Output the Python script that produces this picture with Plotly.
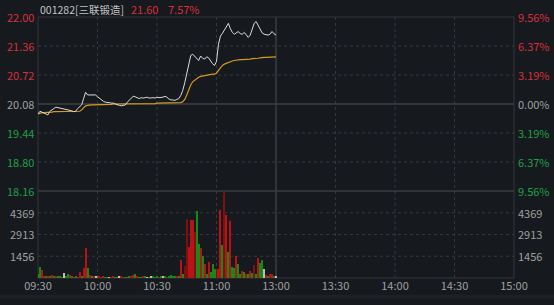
import plotly.graph_objects as go

# ---------------- data ----------------
title_code = "001282[三联锻造]"
last_price = "21.60"
last_pct = "7.57%"
prev_close = 20.08

price_ticks = [22.00, 21.36, 20.72, 20.08, 19.44, 18.80, 18.16]
pct_ticks = ["9.56%", "6.37%", "3.19%", "0.00%", "3.19%", "6.37%", "9.56%"]
vol_ticks = [1456, 2913, 4369]
vol_max = 5825
time_vals = [0, 30, 60, 90, 120, 150, 180, 210, 240]
time_labels = ["09:30", "10:00", "10:30", "11:00", "13:00", "13:30", "14:00", "14:30", "15:00"]

price = [
    19.86, 19.92, 19.90, 19.88, 19.86, 19.84, 19.92, 19.96, 19.98, 20.01,
    20.00, 19.99, 19.98, 19.98, 19.96, 19.95, 19.95, 19.93, 19.91, 19.92,
    19.98, 20.02, 20.06, 20.20, 20.34, 20.28, 20.28, 20.29, 20.28, 20.28,
    20.24, 20.20, 20.17, 20.14, 20.12, 20.12, 20.11, 20.10, 20.10, 20.08,
    20.06, 20.05, 20.04, 20.05, 20.06, 20.12, 20.17, 20.21, 20.25, 20.24,
    20.21, 20.20, 20.22, 20.21, 20.22, 20.23, 20.21, 20.22, 20.22, 20.21,
    20.23, 20.22, 20.22, 20.23, 20.25, 20.23, 20.19, 20.17, 20.17, 20.16,
    20.18, 20.20, 20.27, 20.38, 20.55, 20.75, 20.98, 21.15, 21.18, 21.14,
    21.08, 21.04, 21.14, 21.09, 21.07, 21.12, 21.10, 21.02, 20.97, 20.93,
    21.02, 21.40, 21.58, 21.64, 21.72, 21.80, 21.86, 21.74, 21.66, 21.62,
    21.66, 21.68, 21.63, 21.62, 21.66, 21.60, 21.55, 21.60, 21.74, 21.86,
    21.90, 21.82, 21.74, 21.65, 21.62, 21.61, 21.60, 21.62, 21.68, 21.63,
    21.60,
]

avg_price = [
    19.86, 19.88, 19.89, 19.89, 19.89, 19.89, 19.90, 19.90, 19.91, 19.91,
    19.91, 19.91, 19.91, 19.91, 19.91, 19.91, 19.91, 19.91, 19.91, 19.92,
    19.92, 19.92, 19.95, 20.00, 20.04, 20.05, 20.06, 20.06, 20.06, 20.06,
    20.07, 20.07, 20.07, 20.07, 20.07, 20.07, 20.07, 20.07, 20.08, 20.08,
    20.08, 20.08, 20.08, 20.08, 20.08, 20.08, 20.08, 20.09, 20.09, 20.09,
    20.09, 20.09, 20.09, 20.09, 20.09, 20.09, 20.09, 20.09, 20.09, 20.09,
    20.10, 20.10, 20.10, 20.10, 20.10, 20.10, 20.10, 20.10, 20.10, 20.10,
    20.11, 20.11, 20.11, 20.13, 20.18, 20.28, 20.40, 20.50, 20.57, 20.61,
    20.65, 20.67, 20.69, 20.70, 20.71, 20.72, 20.73, 20.73, 20.74, 20.74,
    20.76, 20.82, 20.88, 20.93, 20.96, 20.98, 21.00, 21.02, 21.03, 21.04,
    21.05, 21.05, 21.06, 21.06, 21.06, 21.07, 21.07, 21.07, 21.08, 21.08,
    21.09, 21.09, 21.10, 21.11, 21.11, 21.11, 21.11, 21.12, 21.12, 21.12,
    21.12,
]

volume = [
    300, 740, 520, 150, 80, 150, 150, 200, 150, 80,
    150, 80, 60, 305, 150, 240, 200, 80, 60, 80,
    60, 430, 80, 660, 2010, 660, 200, 150, 80, 80,
    150, 80, 60, 80, 60, 60, 60, 60, 80, 60,
    60, 150, 80, 60, 40, 60, 80, 150, 200, 240,
    80, 60, 60, 80, 80, 60, 60, 80, 100, 60,
    80, 60, 100, 150, 80, 60, 150, 200, 150, 100,
    150, 100, 1180, 262, 800, 3980, 2050, 3915, 3915, 3060,
    4460, 2275, 2010, 1465, 963, 300, 1095, 400, 920, 600,
    590, 600, 4570, 2230, 5790, 4245, 1750, 3800, 720, 650,
    1465, 920, 300, 500, 400, 300, 260, 480, 340, 875,
    300, 1350, 1000, 1222, 590, 200, 150, 300, 300, 150,
    150,
]

# r = up (red), R = up (dark red), g = down (green), w = unchanged
vol_dir = [
    "g", "g", "r", "r", "g", "r", "g", "r", "g", "r",
    "g", "g", "g", "w", "g", "g", "r", "g", "r", "g",
    "r", "r", "g", "r", "r", "g", "r", "g", "r", "w",
    "g", "r", "r", "r", "g", "g", "w", "r", "r", "g",
    "g", "w", "r", "r", "g", "g", "g", "r", "r", "g",
    "r", "g", "g", "r", "g", "w", "g", "w", "g", "g",
    "g", "r", "g", "w", "g", "r", "g", "g", "g", "g",
    "r", "g", "r", "g", "R", "R", "r", "r", "r", "R",
    "g", "g", "r", "g", "r", "g", "r", "g", "g", "g",
    "R", "r", "r", "g", "R", "r", "g", "r", "g", "g",
    "r", "g", "g", "r", "g", "r", "g", "r", "g", "R",
    "g", "r", "g", "g", "w", "r", "g", "r", "r", "g",
    "w",
]

# ---------------- style ----------------
BG = "#16191e"
GRID = "#34383e"
SOLID = "#34373c"
TXT = "#a0a0a0"
RED = "#d8303a"
GREEN = "#1fa048"
dir_colors = {"r": "#b81418", "R": "#7e100f", "g": "#168a19", "w": "#bdbdbd"}
FONT = "Noto Sans CJK SC"

minutes = list(range(len(price)))

fig = go.Figure()
fig.add_trace(go.Scatter(x=minutes, y=avg_price, mode="lines",
                         line=dict(color="#d39c1f", width=1.2),
                         xaxis="x", yaxis="y", hoverinfo="skip"))
fig.add_trace(go.Scatter(x=minutes, y=price, mode="lines",
                         line=dict(color="#dcdcdc", width=1),
                         xaxis="x", yaxis="y", hoverinfo="skip"))
fig.add_trace(go.Bar(x=minutes, y=volume, width=0.5,
                     marker=dict(color=[dir_colors[d] for d in vol_dir], line=dict(width=0)),
                     xaxis="x", yaxis="y2", hoverinfo="skip"))

split = 89 / 267
shapes = []
# horizontal dotted price grid
for p in price_ticks[1:-1]:
    if p == prev_close:
        continue
    shapes.append(dict(type="line", xref="paper", yref="y", x0=0, x1=1, y0=p, y1=p,
                       line=dict(color=GRID, width=1, dash="dot"), layer="below"))
for v in vol_ticks:
    shapes.append(dict(type="line", xref="paper", yref="y2", x0=0, x1=1, y0=v, y1=v,
                       line=dict(color=GRID, width=1, dash="dot"), layer="below"))
for t in time_vals[1:-1]:
    if t == 120:
        continue
    shapes.append(dict(type="line", xref="x", yref="paper", x0=t, x1=t, y0=0, y1=1,
                       line=dict(color=GRID, width=1, dash="dot"), layer="below"))
# solid lines
shapes.append(dict(type="line", xref="x", yref="paper", x0=120, x1=120, y0=0, y1=1,
                   line=dict(color="#3a3d42", width=1.5), layer="below"))
shapes.append(dict(type="line", xref="paper", yref="y", x0=0, x1=1, y0=prev_close, y1=prev_close,
                   line=dict(color="#3d4045", width=1.5), layer="below"))
shapes.append(dict(type="line", xref="paper", yref="paper", x0=0, x1=1, y0=split, y1=split,
                   line=dict(color="#3a3d42", width=1.5), layer="below"))
shapes.append(dict(type="rect", xref="paper", yref="paper", x0=0, x1=1, y0=0, y1=1,
                   line=dict(color=SOLID, width=1), layer="below"))
# bottom scroll strip
shapes.append(dict(type="rect", xref="paper", yref="paper", x0=-0.08, x1=1.09,
                   y0=-0.0787, y1=-0.0637, fillcolor="#1d2025", line=dict(width=0), layer="below"))

annotations = []
for p, pct in zip(price_ticks, pct_ticks):
    if abs(p - prev_close) < 1e-9:
        c = TXT
    elif p > prev_close:
        c = RED
    else:
        c = GREEN
    annotations.append(dict(x=-0.004, xref="paper", y=p, yref="y", text=f"{p:.2f}",
                            xanchor="right", yanchor="middle", showarrow=False,
                            font=dict(color=c, size=11, family=FONT)))
    annotations.append(dict(x=1.004, xref="paper", y=p, yref="y", text=pct,
                            xanchor="left", yanchor="middle", showarrow=False,
                            font=dict(color=c, size=11, family=FONT)))
for v in vol_ticks:
    annotations.append(dict(x=-0.004, xref="paper", y=v, yref="y2", text=str(v),
                            xanchor="right", yanchor="middle", showarrow=False,
                            font=dict(color=TXT, size=11, family=FONT)))
    annotations.append(dict(x=1.004, xref="paper", y=v, yref="y2", text=str(v),
                            xanchor="left", yanchor="middle", showarrow=False,
                            font=dict(color=TXT, size=11, family=FONT)))
# title
annotations.append(dict(x=0.0, xref="paper", y=1.03, yref="paper", text=title_code,
                        xanchor="left", yanchor="middle", showarrow=False,
                        font=dict(color="#c4c4c4", size=10.5, family=FONT)))
annotations.append(dict(x=(129 - 38) / 476, xref="paper", y=1.03, yref="paper", text=last_price,
                        xanchor="left", yanchor="middle", showarrow=False,
                        font=dict(color=RED, size=11, family=FONT)))
annotations.append(dict(x=(166 - 38) / 476, xref="paper", y=1.03, yref="paper", text=last_pct,
                        xanchor="left", yanchor="middle", showarrow=False,
                        font=dict(color=RED, size=11, family=FONT)))

fig.update_layout(
    width=554, height=305,
    margin=dict(l=38, r=40, t=17, b=21, pad=0),
    paper_bgcolor=BG, plot_bgcolor=BG,
    showlegend=False, bargap=0,
    xaxis=dict(range=[0, 240], anchor="y2", tickvals=time_vals, ticktext=time_labels,
               showgrid=False, zeroline=False, showline=False, ticks="",
               tickfont=dict(color=TXT, size=11, family=FONT), fixedrange=True),
    yaxis=dict(domain=[split, 1], range=[price_ticks[-1], price_ticks[0]],
               showgrid=False, zeroline=False, showticklabels=False, fixedrange=True),
    yaxis2=dict(domain=[0, split], range=[0, vol_max],
                showgrid=False, zeroline=False, showticklabels=False, fixedrange=True),
    shapes=shapes, annotations=annotations,
)

fig.write_html("out.html")
